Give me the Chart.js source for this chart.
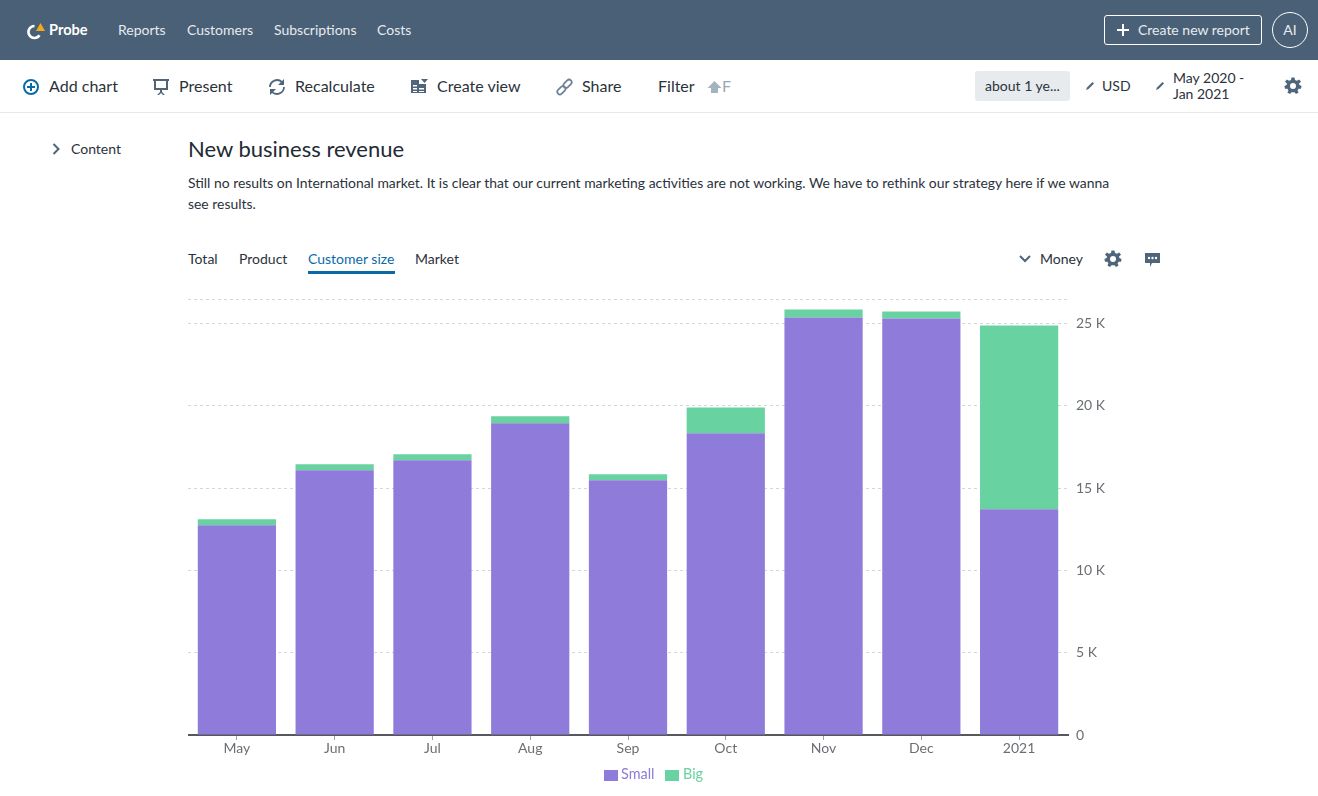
<!DOCTYPE html>
<html>
<head>
<meta charset="utf-8">
<title>New business revenue</title>
<script src="https://cdn.jsdelivr.net/npm/chart.js@4"></script>
<style>
  html, body { margin: 0; padding: 0; background: #fff; }
  body { width: 1318px; height: 796px; position: relative; overflow: hidden; font-family: Lato, sans-serif; color: #2b323b; }
  .t { position: absolute; white-space: nowrap; line-height: 20px; }
  svg { position: absolute; }
  #header { position: absolute; left: 0; top: 0; width: 1318px; height: 60px; background: #4a6076; }
  #toolbar { position: absolute; left: 0; top: 60px; width: 1318px; height: 52px; border-bottom: 1px solid #e6e8ea; }
  .nav { color: #e6ebf0; font-size: 14px; top: 20px; }
  .tool { font-size: 16.05px; top: 76px; }
  .tab { font-size: 14px; top: 249px; }
  #chartBox { position: absolute; left: 188px; top: 283px; width: 930px; height: 482px; }
  .legendBox { position: absolute; top: 770px; width: 14px; height: 11px; }
</style>
</head>
<body>
<div id="header"></div>
<div id="toolbar"></div>

<!-- logo -->
<svg style="left:26px;top:21px" width="22" height="20" viewBox="0 0 22 20">
  <path d="M8.5 5 A6 6 0 1 0 13.5 14.3" fill="none" stroke="#fff" stroke-width="2.6"/>
  <path d="M14.5 2 L19 10 L10 10 Z" fill="#f2a91c"/>
</svg>
<div class="t" style="left:49px;top:20px;font-size:14.6px;font-weight:700;color:#fff">Probe</div>
<div class="t nav" style="left:118px">Reports</div>
<div class="t nav" style="left:187px">Customers</div>
<div class="t nav" style="left:274px">Subscriptions</div>
<div class="t nav" style="left:377px">Costs</div>

<div style="position:absolute;left:1104px;top:15px;width:156px;height:28px;border:1px solid #fff;border-radius:3px"></div>
<svg style="left:1116px;top:23px" width="14" height="14" viewBox="0 0 14 14"><path d="M7 1V13M1 7H13" stroke="#fff" stroke-width="2"/></svg>
<div class="t" style="left:1138px;top:20px;font-size:14px;color:#e6ebf0">Create new report</div>
<div style="position:absolute;left:1272px;top:12px;width:34px;height:34px;border:1px solid #fff;border-radius:50%"></div>
<div class="t" style="left:1272px;width:36px;text-align:center;top:20px;font-size:14px;color:#e6ebf0">AI</div>

<!-- toolbar -->
<svg style="left:22px;top:78px" width="18" height="18" viewBox="0 0 18 18"><circle cx="9" cy="9" r="7" fill="none" stroke="#0a6aa8" stroke-width="2"/><path d="M9 5V13M5 9H13" stroke="#0a6aa8" stroke-width="2"/></svg>
<div class="t tool" style="left:49px">Add chart</div>
<svg style="left:153px;top:78px" width="16" height="18" viewBox="0 0 16 18"><path d="M0 1H16V3H15V12H1V3H0Z" fill="#4f657b"/><rect x="3" y="3" width="10" height="7" fill="#fff"/><path d="M7 12H9V14L12 17H10L8 15L6 17H4L7 14Z" fill="#4f657b"/></svg>
<div class="t tool" style="left:179px">Present</div>
<svg style="left:268px;top:78px" width="18" height="18" viewBox="0 0 18 18"><g fill="none" stroke="#4f657b" stroke-width="1.8"><path d="M2 9A7 7 0 0 1 14 4.2"/><path d="M16 9A7 7 0 0 1 4 13.8"/></g><path d="M16 1V7H10Z M2 17V11H8Z" fill="#4f657b"/></svg>
<div class="t tool" style="left:295px">Recalculate</div>
<svg style="left:410px;top:78px" width="18" height="17" viewBox="0 0 18 17"><path d="M1 2H9V6H16V15H1Z" fill="#4f657b"/><path d="M3 7H7V8.5H3Z M3 10H7V11.5H3Z M9 10H14V11.5H9Z M3 13H7V14H3Z M9 13H14V14H9Z" fill="#fff"/><path d="M11 1H18L14.5 5Z" fill="#4f657b"/></svg>
<div class="t tool" style="left:437px">Create view</div>
<svg style="left:556px;top:78px" width="17" height="18" viewBox="0 0 18 18"><g fill="none" stroke="#6d8194" stroke-width="1.8"><rect x="9.5" y="0.5" width="5.5" height="10" rx="2.75" transform="rotate(45 12.25 5.5)"/><rect x="3" y="7.5" width="5.5" height="10" rx="2.75" transform="rotate(45 5.75 12.5)"/></g></svg>
<div class="t tool" style="left:582px">Share</div>
<div class="t tool" style="left:658px">Filter</div>
<svg style="left:707px;top:80px" width="15" height="14" viewBox="0 0 15 14"><path d="M7.5 1L14.5 8H11V13H4V8H0.5Z" fill="#a3b3c0"/></svg>
<div class="t tool" style="left:722px;color:#9aa8b4">F</div>

<div style="position:absolute;left:975px;top:71px;width:95px;height:30px;background:#e8ebee;border-radius:3px"></div>
<div class="t" style="left:985px;top:76px;font-size:14px">about 1 ye...</div>
<svg style="left:1085px;top:81px" width="10" height="10" viewBox="0 0 10 10"><path d="M1 9L2 6.5L7.5 1L9 2.5L3.5 8Z" fill="#4f657b"/></svg>
<div class="t" style="left:1102px;top:76px;font-size:14px">USD</div>
<svg style="left:1155px;top:81px" width="10" height="10" viewBox="0 0 10 10"><path d="M1 9L2 6.5L7.5 1L9 2.5L3.5 8Z" fill="#4f657b"/></svg>
<div class="t" style="left:1173px;top:70px;font-size:14px;line-height:16px">May 2020 -<br>Jan 2021</div>
<svg style="left:1284px;top:77px" width="18" height="18" viewBox="0 0 18 18"><path d="M7.5 0.5H10.5L11 3L13 3.8L15.2 2.4L17 4.8L15 6.5L15.4 8L17.6 9L17 11.8L14.6 11.8L13.6 13.4L14.6 15.6L12 17L10.5 15.2H7.5L6 17L3.4 15.6L4.4 13.4L3.4 11.8L1 11.8L0.4 9L2.6 8L3 6.5L1 4.8L2.8 2.4L5 3.8L7 3Z M9 6A3 3 0 1 0 9 12A3 3 0 1 0 9 6Z" fill="#4f657b" fill-rule="evenodd"/></svg>

<!-- side + heading -->
<svg style="left:52px;top:143px" width="8" height="12" viewBox="0 0 8 12"><path d="M1.5 1L6.5 6L1.5 11" fill="none" stroke="#4f657b" stroke-width="2"/></svg>
<div class="t" style="left:71px;top:139px;font-size:14px">Content</div>
<div class="t" style="left:188px;top:135px;font-size:22px;line-height:27px;color:#222a33">New business revenue</div>
<div class="t" style="left:188px;top:173px;font-size:13.92px">Still no results on International market. It is clear that our current marketing activities are not working. We have to rethink our strategy here if we wanna</div>
<div class="t" style="left:188px;top:194px;font-size:13.92px">see results.</div>

<!-- tabs -->
<div class="t tab" style="left:188px">Total</div>
<div class="t tab" style="left:239px">Product</div>
<div class="t tab" style="left:308px;color:#0a6aa8">Customer size</div>
<div style="position:absolute;left:308px;top:271px;width:87px;height:3px;background:#0a6aa8"></div>
<div class="t tab" style="left:415px">Market</div>

<svg style="left:1019px;top:255px" width="12" height="8" viewBox="0 0 12 8"><path d="M1 1L6 6L11 1" fill="none" stroke="#4f657b" stroke-width="2"/></svg>
<div class="t tab" style="left:1040px">Money</div>
<svg style="left:1104px;top:250px" width="18" height="18" viewBox="0 0 18 18"><path d="M7.5 0.5H10.5L11 3L13 3.8L15.2 2.4L17 4.8L15 6.5L15.4 8L17.6 9L17 11.8L14.6 11.8L13.6 13.4L14.6 15.6L12 17L10.5 15.2H7.5L6 17L3.4 15.6L4.4 13.4L3.4 11.8L1 11.8L0.4 9L2.6 8L3 6.5L1 4.8L2.8 2.4L5 3.8L7 3Z M9 6A3 3 0 1 0 9 12A3 3 0 1 0 9 6Z" fill="#4f657b" fill-rule="evenodd"/></svg>
<svg style="left:1145px;top:253px" width="15" height="15" viewBox="0 0 15 15"><path d="M0 0H15V10H7L5 14V10H0Z" fill="#4f657b"/><circle cx="4" cy="5" r="1.2" fill="#fff"/><circle cx="7.5" cy="5" r="1.2" fill="#fff"/><circle cx="11" cy="5" r="1.2" fill="#fff"/></svg>

<div id="chartBox"><canvas id="revenueChart"></canvas></div>
<div id="legend"></div>

<script>
const categories = ['May', 'Jun', 'Jul', 'Aug', 'Sep', 'Oct', 'Nov', 'Dec', '2021'];
const smallValues = [12740, 16080, 16690, 18930, 15470, 18330, 25360, 25300, 13710];
const bigValues = [360, 360, 360, 430, 370, 1570, 490, 430, 11170];
const tickValues = [0, 5000, 10000, 15000, 20000, 25000];
const yMax = 26460;

const PURPLE = '#8f7bd9';
const GREEN = '#68d3a0';
const LABEL_GREY = '#6b6f73';

const ctx = document.getElementById('revenueChart');

const chart = new Chart(ctx, {
  type: 'bar',
  data: {
    labels: categories,
    datasets: [
      { label: 'Small', data: smallValues, backgroundColor: PURPLE },
      { label: 'Big', data: bigValues, backgroundColor: GREEN }
    ]
  },
  options: {
    responsive: true,
    maintainAspectRatio: false,
    animation: false,
    barPercentage: 0.8,
    categoryPercentage: 1,
    layout: { padding: { top: 2, bottom: 0 } },
    scales: {
      x: {
        stacked: true,
        border: { color: '#55595d', width: 2 },
        grid: { offset: false, drawOnChartArea: false, drawTicks: true, tickLength: 5, tickColor: '#a0a0a0' },
        afterFit(scale) {
          scale.height = 30;
        },
        ticks: { color: LABEL_GREY, font: { family: 'Lato', size: 14 }, padding: 0, maxRotation: 0 }
      },
      y: {
        stacked: true,
        position: 'right',
        min: 0,
        max: yMax,
        border: { display: false, dash: [3, 3] },
        grid: { color: '#d6d6d6', lineWidth: 1, drawTicks: false },
        afterBuildTicks(scale) {
          scale.ticks = tickValues.concat(yMax).map(value => ({ value }));
        },
        afterFit(scale) {
          scale.width = 50;
        },
        ticks: {
          color: LABEL_GREY,
          font: { family: 'Lato', size: 14 },
          padding: 8,
          callback(value) {
            if (value === yMax) return '';
            return value === 0 ? '0' : (value / 1000) + ' K';
          }
        }
      }
    },
    plugins: {
      tooltip: { enabled: false },
      legend: { display: false }
    }
  }
});

// html legend, the built-in one can't get the box and text this close
const legendBoxX = [604, 665];
const legendTextX = [621, 683];
const legendEl = document.getElementById('legend');
chart.data.datasets.forEach((d, i) => {
  const box = document.createElement('div');
  box.className = 'legendBox';
  box.style.left = legendBoxX[i] + 'px';
  box.style.background = d.backgroundColor;
  const text = document.createElement('div');
  text.className = 't';
  text.style.cssText = 'left:' + legendTextX[i] + 'px;top:764px;font-size:14.4px;color:' + d.backgroundColor;
  text.textContent = d.label;
  legendEl.append(box, text);
});
</script>
</body>
</html>
